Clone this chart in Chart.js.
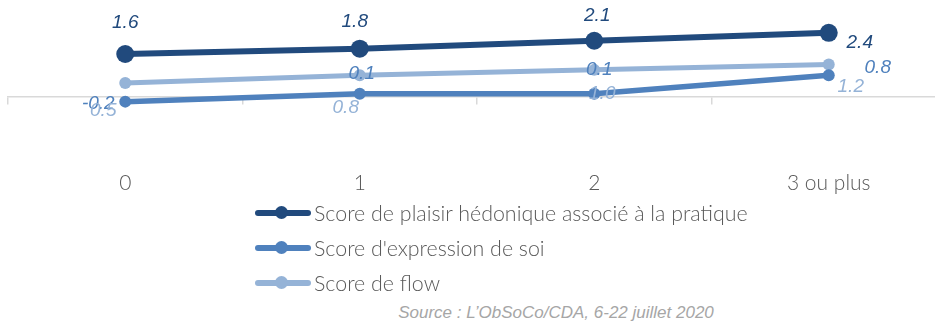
<!DOCTYPE html>
<html>
<head>
<meta charset="utf-8">
<script src="https://cdn.jsdelivr.net/npm/chart.js@4/dist/chart.umd.min.js"></script>
<style>
  html, body { margin: 0; padding: 0; background: #ffffff; overflow: hidden; width: 935px; height: 323px; }
  #wrap { position: absolute; left: 0; top: 0; width: 950px; height: 200px; }
  #legend { position: absolute; left: 255px; top: 195px; font-family: Lato, "Open Sans", sans-serif; font-weight: 300; font-size: 21.4px; color: #595959; }
  .item { display: flex; align-items: center; height: 35px; }
  .sym { position: relative; width: 56px; height: 14px; margin-right: 3px; }
  .sym .ln { position: absolute; left: 0; right: 0; top: 4px; height: 6px; border-radius: 3px; }
  .sym .dot { position: absolute; left: 20px; top: 0px; width: 13px; height: 13px; border-radius: 50%; }
  #source { position: absolute; left: 0; width: 1112px; top: 303px; text-align: center; font-family: "Liberation Sans", Arial, sans-serif; font-style: italic; font-size: 17px; color: #a6a6a6; }
</style>
</head>
<body>
<div id="wrap"><canvas id="c"></canvas></div>
<div id="legend"></div>
<div id="source">Source : L’ObSoCo/CDA, 6-22 juillet 2020</div>
<script>
const categories = ["0", "1", "2", "3 ou plus"];
const seriesNames = [
  "Score de plaisir hédonique associé à la pratique",
  "Score d'expression de soi",
  "Score de flow"
];
const plaisir = [1.6, 1.8, 2.1, 2.4];
const expression = [-0.2, 0.1, 0.1, 0.8];
const flow = [0.5, 0.8, 1.0, 1.2];

const colors = ["#214A7D", "#4F81BD", "#95B3D7"];

// label placement offsets (px) relative to each point, as in the reference
const labelOffsets = [
  [[0, -31], [-5, -27], [3, -25], [31, 10]],
  [[-27, 2], [2, -20], [5, -24], [49, -7]],
  [[-22, 28], [-14, 33], [8, 24], [22, 22]]
];

const labelPlugin = {
  id: 'valueLabels',
  afterDatasetsDraw(chart) {
    const ctx = chart.ctx;
    ctx.save();
    ctx.font = 'italic 19px "Liberation Sans", Arial, sans-serif';
    ctx.textAlign = 'center';
    ctx.textBaseline = 'middle';
    chart.data.datasets.forEach((ds, di) => {
      const meta = chart.getDatasetMeta(di);
      ctx.fillStyle = ds.borderColor;
      meta.data.forEach((pt, i) => {
        const off = labelOffsets[di][i];
        const v = ds.data[i];
        ctx.fillText(v.toFixed(1), pt.x + off[0], pt.y + off[1]);
      });
    });
    ctx.restore();
  }
};

const chart = new Chart(document.getElementById('c'), {
  type: 'line',
  data: {
    labels: categories,
    datasets: [
      { label: seriesNames[0], data: plaisir, borderColor: colors[0], backgroundColor: colors[0], borderWidth: 6, pointRadius: 9, pointHoverRadius: 9, pointBorderWidth: 0, xAxisID: 'x' },
      { label: seriesNames[1], data: expression, borderColor: colors[1], backgroundColor: colors[1], borderWidth: 5.5, pointRadius: 6, pointHoverRadius: 6, pointBorderWidth: 0, xAxisID: 'x' },
      { label: seriesNames[2], data: flow, borderColor: colors[2], backgroundColor: colors[2], borderWidth: 5, pointRadius: 6, pointHoverRadius: 6, pointBorderWidth: 0, xAxisID: 'x' }
    ]
  },
  options: {
    responsive: true,
    maintainAspectRatio: false,
    animation: false,
    events: [],
    layout: { autoPadding: false, padding: { left: 8, right: 4, top: 0, bottom: 0 } },
    plugins: { legend: { display: false }, tooltip: { enabled: false } },
    scales: {
      x: {
        type: 'category',
        position: 'bottom',
        offset: true,
        grid: { display: false },
        border: { display: false },
        ticks: { padding: 4, color: '#595959', font: { family: 'Lato, "Open Sans", sans-serif', weight: 300, size: 21 }, maxRotation: 0 }
      },
      x2: {
        type: 'category',
        position: { y: 0 },
        offset: true,
        grid: { display: true, offset: true, drawOnChartArea: false, drawTicks: true, tickLength: 7, color: '#d9d9d9', lineWidth: 1.5 },
        border: { display: true, color: '#d9d9d9', width: 1.5 },
        ticks: { display: false }
      },
      y: {
        display: false,
        min: -2.36,
        max: 3.64
      }
    }
  },
  plugins: [labelPlugin]
});

const legend = document.getElementById('legend');
chart.data.datasets.forEach((ds) => {
  const item = document.createElement('div');
  item.className = 'item';
  const sym = document.createElement('span');
  sym.className = 'sym';
  const ln = document.createElement('span');
  ln.className = 'ln';
  ln.style.background = ds.borderColor;
  const dot = document.createElement('span');
  dot.className = 'dot';
  dot.style.background = ds.borderColor;
  sym.appendChild(ln); sym.appendChild(dot);
  const txt = document.createElement('span');
  txt.textContent = ds.label;
  item.appendChild(sym); item.appendChild(txt);
  legend.appendChild(item);
});
</script>
</body>
</html>
